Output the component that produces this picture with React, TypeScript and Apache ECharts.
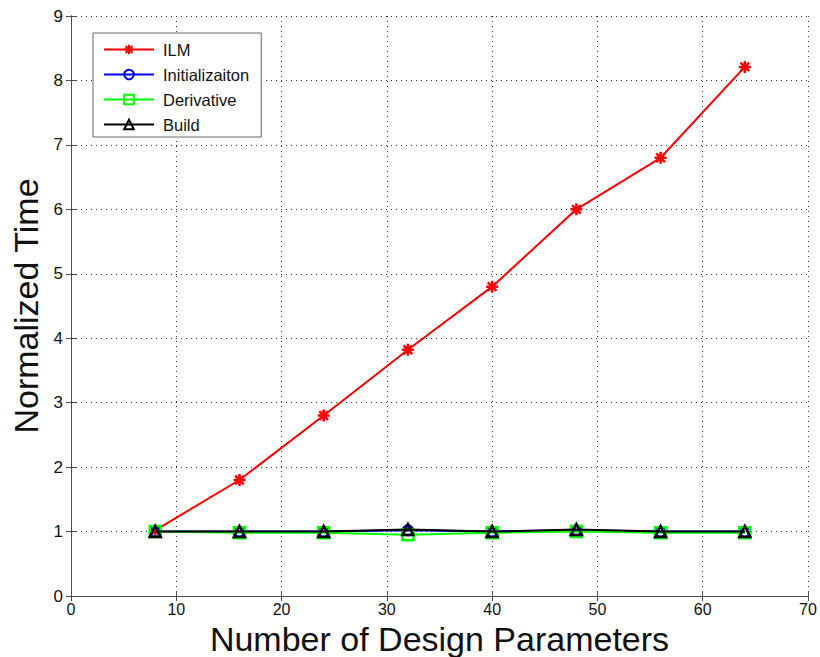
import React, { useEffect, useRef } from "react";
import * as echarts from "echarts";

const xValues = [8, 16, 24, 32, 40, 48, 56, 64];
const ilm = [1.02, 1.8, 2.8, 3.82, 4.8, 6.0, 6.8, 8.21];
const initialization = [1.0, 1.0, 1.0, 1.02, 1.0, 1.02, 1.0, 1.0];
const derivative = [1.0, 0.98, 0.98, 0.95, 0.98, 1.0, 0.98, 0.98];
const build = [1.0, 1.0, 1.0, 1.03, 1.0, 1.03, 1.0, 1.0];
const seriesNames = ["ILM", "Initializaiton", "Derivative", "Build"];

const FONT = "Liberation Sans, Arial, Helvetica, sans-serif";
const asterisk =
  "path://M0,-5L0,5M-5,0L5,0M-3.6,-3.6L3.6,3.6M-3.6,3.6L3.6,-3.6";

function pairs(vals: number[]) {
  return xValues.map((x, i) => [x, vals[i]]);
}

export default function App() {
  const ref = useRef<HTMLDivElement>(null);
  useEffect(() => {
    const chart = echarts.init(ref.current!, undefined, { renderer: "svg" });
    const axisCommon = {
      axisLine: { show: true, lineStyle: { color: "#4d4d4d", width: 1 } },
      axisTick: { show: true, inside: true, length: 5, lineStyle: { color: "#4d4d4d" } },
    };
    chart.setOption({
      animation: false,
      backgroundColor: "#ffffff",
      textStyle: { fontFamily: FONT },
      grid: {
        left: 71,
        top: 16,
        width: 737,
        height: 580,
        show: false,
        containLabel: false,
        outerBoundsMode: "none",
      },
      legend: {
        orient: "vertical",
        left: 93,
        top: 33,
        data: seriesNames,
        itemWidth: 50,
        itemHeight: 12,
        itemGap: 8,
        padding: [8, 12, 4, 10],
        borderColor: "#666",
        borderWidth: 1,
        backgroundColor: "#fff",
        textStyle: {
          fontSize: 16.5,
          lineHeight: 17,
          color: "#111",
          fontFamily: FONT,
          padding: [0, 0, 0, 4],
        },
      },
      xAxis: [
        {
          type: "value",
          min: 0,
          max: 70,
          interval: 10,
          position: "bottom",
          name: "Number of Design Parameters",
          nameLocation: "middle",
          nameGap: 22,
          nameTextStyle: { fontSize: 34, color: "#111", fontFamily: FONT },
          axisLabel: { fontSize: 16, color: "#111", margin: 5, fontFamily: FONT },
          splitLine: { show: true, lineStyle: { type: [1, 4], color: "#333", width: 1 } },
          ...axisCommon,
        },
        {
          type: "value",
          min: 0,
          max: 70,
          interval: 10,
          position: "top",
          axisLabel: { show: false },
          splitLine: { show: false },
          ...axisCommon,
        },
      ],
      yAxis: [
        {
          type: "value",
          min: 0,
          max: 9,
          interval: 1,
          position: "left",
          name: "Normalized Time",
          nameLocation: "middle",
          nameGap: 20,
          nameTextStyle: { fontSize: 34, color: "#111", fontFamily: FONT },
          axisLabel: { fontSize: 17, color: "#111", margin: 8, fontFamily: FONT },
          splitLine: { show: true, lineStyle: { type: [1, 4], color: "#333", width: 1 } },
          ...axisCommon,
        },
        {
          type: "value",
          min: 0,
          max: 9,
          interval: 1,
          position: "right",
          axisLabel: { show: false },
          splitLine: { show: false },
          ...axisCommon,
        },
      ],
      series: [
        {
          name: "ILM",
          type: "line",
          data: pairs(ilm),
          symbol: asterisk,
          symbolSize: 12,
          lineStyle: { color: "#ff0000", width: 2 },
          itemStyle: { color: "#ff0000", borderColor: "#ff0000", borderWidth: 2.5 },
          z: 2,
        },
        {
          name: "Initializaiton",
          type: "line",
          data: pairs(initialization),
          symbol: "circle",
          symbolSize: 10,
          lineStyle: { color: "#0000ff", width: 2 },
          itemStyle: { color: "transparent", borderColor: "#0000ff", borderWidth: 2 },
          z: 3,
        },
        {
          name: "Derivative",
          type: "line",
          data: pairs(derivative),
          symbol: "rect",
          symbolSize: 11,
          lineStyle: { color: "#00ff00", width: 2 },
          itemStyle: { color: "transparent", borderColor: "#00ff00", borderWidth: 2.5 },
          z: 4,
        },
        {
          name: "Build",
          type: "line",
          data: pairs(build),
          symbol: "triangle",
          symbolSize: 11,
          lineStyle: { color: "#000000", width: 2 },
          itemStyle: { color: "transparent", borderColor: "#000000", borderWidth: 2.5 },
          z: 5,
        },
      ],
    });
    return () => chart.dispose();
  }, []);
  return (
    <div
      ref={ref}
      style={{ position: "fixed", left: 0, top: 0, width: 820, height: 657, background: "#fff" }}
    />
  );
}
